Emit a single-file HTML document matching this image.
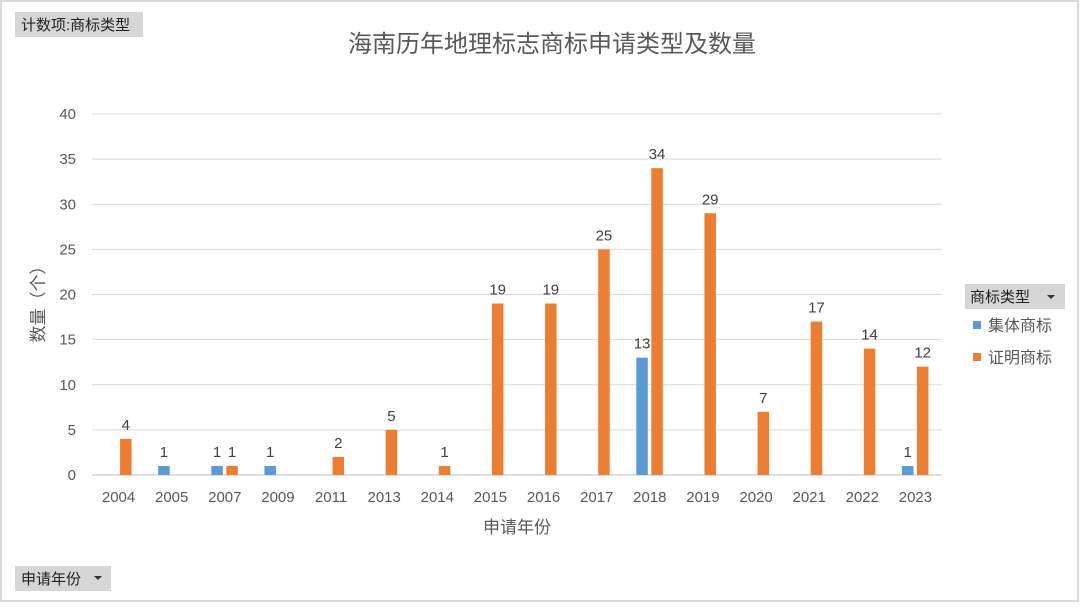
<!DOCTYPE html>
<html><head><meta charset="utf-8"><style>
html,body{margin:0;padding:0;background:#fff}
body{width:1080px;height:603px;overflow:hidden;font-family:"Liberation Sans","Noto Sans CJK SC",sans-serif}
svg text{font-family:"Liberation Sans","Noto Sans CJK SC",sans-serif}
</style></head><body>
<svg width="1080" height="603">
<rect x="1" y="1" width="1077" height="600" fill="#fff" stroke="#d9d9d9" stroke-width="2"/>
<g><rect x="15" y="12" width="128" height="25" fill="#d6d6d6"/><text x="21" y="30" font-size="15" fill="#222">计数项:商标类型</text></g>
<g><rect x="15" y="566" width="96" height="25" fill="#d6d6d6"/><text x="21" y="584" font-size="15" fill="#222">申请年份</text><path d="M94 576l8 0l-4 4z" fill="#333"/></g>
<text x="552" y="52" font-size="24" fill="#595959" text-anchor="middle">海南历年地理标志商标申请类型及数量</text>
<g id="grid"></g><g id="bars"></g><g id="labels"></g>
<text x="517" y="533" font-size="17" fill="#595959" text-anchor="middle">申请年份</text>
<text transform="translate(44,300) rotate(-90)" font-size="17" fill="#595959" text-anchor="middle">数量（个）</text>
<g>
<g><rect x="965" y="284" width="100" height="25" fill="#d6d6d6"/><text x="970" y="302" font-size="15" fill="#222">商标类型</text><path d="M1047 295l8 0l-4 4z" fill="#333"/></g>
<g><rect x="973" y="321" width="8" height="8" fill="#5b9bd5"/><text x="988" y="331" font-size="16" fill="#595959">集体商标</text></g>
<g><rect x="973" y="353" width="8" height="8" fill="#ed7d31"/><text x="988" y="363" font-size="16" fill="#595959">证明商标</text></g>
</g>
</svg>
<script>
const categories=["2004","2005","2007","2009","2011","2013","2014","2015","2016","2017","2018","2019","2020","2021","2022","2023"];
const collective=[0,1,1,1,0,0,0,0,0,0,13,0,0,0,0,1];
const certification=[4,0,1,0,2,5,1,19,19,25,34,29,7,17,14,12];
const yTicks=[0,5,10,15,20,25,30,35,40];
const NS="http://www.w3.org/2000/svg";
const x0=92,x1=942,y0=475,y1=114,yMax=40;
const band=(x1-x0)/categories.length;
const xc=i=>x0+band*(i+0.5);
const y=v=>y0-(v/yMax)*(y0-y1);
function mk(tag,attrs,parent,txt){const e=document.createElementNS(NS,tag);for(const k in attrs)e.setAttribute(k,attrs[k]);if(txt!==undefined)e.textContent=txt;parent.appendChild(e);return e;}
const grid=document.getElementById('grid'),bars=document.getElementById('bars'),labels=document.getElementById('labels');
yTicks.forEach(t=>{
 const l=mk('line',{x1:x0,x2:x1,y1:y(t),y2:y(t),stroke:t===0?'#bfbfbf':'#d9d9d9','stroke-width':1},grid);
 
 
 const tx=mk('text',{x:76,y:y(t)+5,'font-size':15,fill:'#595959','text-anchor':'end'},grid,t);
 
 
});
categories.forEach((c,i)=>{
 const tx=mk('text',{x:xc(i),y:502,'font-size':15,fill:'#595959','text-anchor':'middle'},labels,c);
 
 
 [[collective,'#5b9bd5',-13.5,'collective'],[certification,'#ed7d31',1.5,'certification']].forEach(([arr,col,off,nm])=>{
  const v=arr[i]; if(!v)return;
  const r=mk('rect',{x:xc(i)+off,y:y(v),width:11.5,height:y0-y(v),fill:col},bars);
  
  
  const lb=mk('text',{x:xc(i)+off+5.75,y:y(v)-9,'font-size':15,fill:'#404040','text-anchor':'middle'},labels,v);
  
  
 });
});
</script>
</body></html>
